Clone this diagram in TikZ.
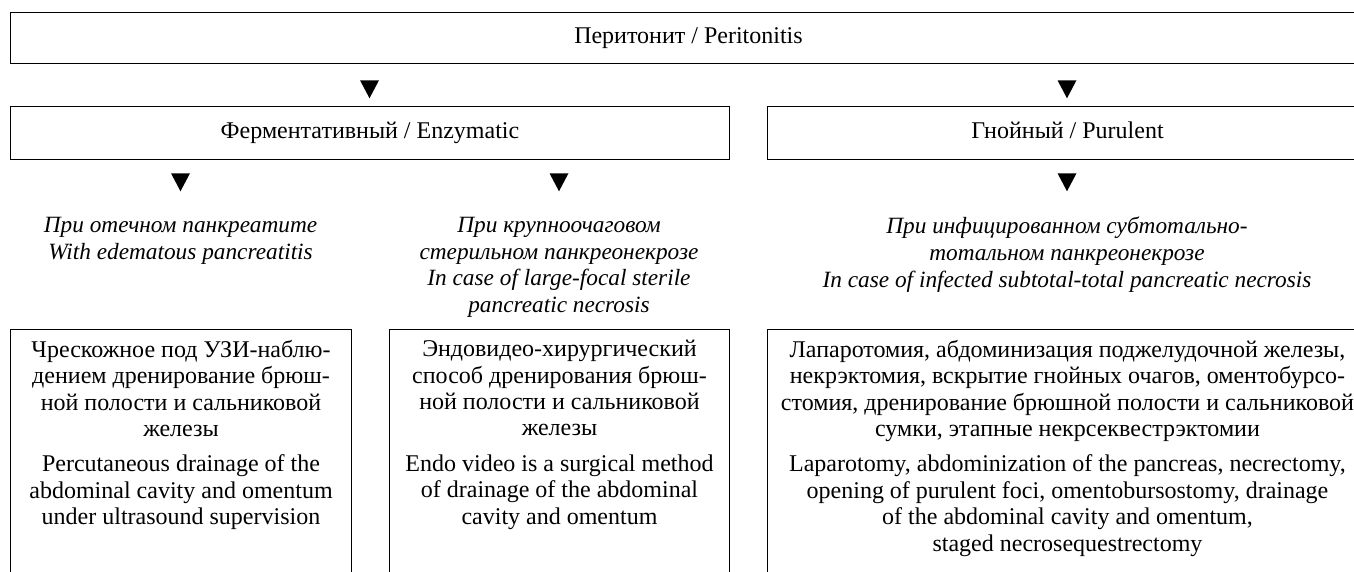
\documentclass[tikz,border=0pt]{standalone}
\usepackage{fontspec}
\setmainfont{Liberation Serif}
\usetikzlibrary{shapes.geometric}

\begin{document}
\begin{tikzpicture}[x = 1pt, y = -1pt, font = \fontsize{24}{26.4}\selectfont,
        box/.style = {draw, line width = 1pt, inner sep = 0pt, anchor = north west},
        head/.style = {box, text height = 16pt, text depth = 5pt},
        tip/.style = {isosceles triangle, isosceles triangle stretches, shape border rotate = -90,
            fill, inner sep = 0pt, minimum height = 18pt, minimum width = 19pt},
        case/.style = {align = center, anchor = north, inner sep = 0pt,
            font = \fontsize{23.3}{26.6}\selectfont\itshape},
        body/.style = {align = center, anchor = north, inner sep = 0pt}]
        \useasboundingbox (0,0) rectangle (1354,572);
        \clip (0,0) rectangle (1354,572);

        % first two levels
        \node[head, minimum width = 1356pt, minimum height = 51pt] (peritonitis) at (10,12) {Перитонит / Peritonitis};
        \node[tip] (tipL) at (369.5,86) {};
        \node[tip] (tipR) at (1067,86) {};

        \node[head, minimum width = 719pt, minimum height = 53pt] (enzymatic) at (10,106) {Ферментативный / Enzymatic};
        \node[head, minimum width = 600pt, minimum height = 53pt] (purulent) at (767,106) {Гнойный / Purulent};

        \node[tip] (tipA) at (180.5,179) {};
        \node[tip] (tipB) at (559,179) {};
        \node[tip] (tipC) at (1067,179) {};

        % cases
        \node[case] (edematous) at (180.5,217) {При отечном панкреатите\\With edematous pancreatitis};
        \node[case] (sterile) at (559,217) {При крупноочаговом\\стерильном панкреонекрозе\\In case of large-focal sterile\\pancreatic necrosis};
        \node[case] (infected) at (1067,217) {При инфицированном субтотально-\\тотальном панкреонекрозе\\In case of infected subtotal-total pancreatic necrosis};

        % treatment
        \node[box, minimum width = 341pt, minimum height = 300pt] (drainage) at (10,329) {};
        \node[box, minimum width = 340pt, minimum height = 300pt] (endovideo) at (389,329) {};
        \node[box, minimum width = 600pt, minimum height = 300pt] (laparotomy) at (767,329) {};

        \node[body] (drainageText) at ([yshift = -11pt]drainage.north)
            {Чрескожное под УЗИ-наблю-\\дением дренирование брюш-\\ной полости и сальниковой\\железы\\[9pt]
             Percutaneous drainage of the\\abdominal cavity and omentum\\under ultrasound supervision};
        \node[body] (endovideoText) at ([yshift = -11pt]endovideo.north)
            {Эндовидео-хирургический\\способ дренирования брюш-\\ной полости и сальниковой\\железы\\[9pt]
             Endo video is a surgical method\\of drainage of the abdominal\\cavity and omentum};
        \node[body] (laparotomyText) at ([yshift = -11pt]laparotomy.north)
            {Лапаротомия, абдоминизация поджелудочной железы,\\некрэктомия, вскрытие гнойных очагов, оментобурсо-\\стомия, дренирование брюшной полости и сальниковой\\сумки, этапные некрсеквестрэктомии\\[9pt]
             Laparotomy, abdominization of the pancreas, necrectomy,\\opening of purulent foci, omentobursostomy, drainage\\of the abdominal cavity and omentum,\\staged necrosequestrectomy};
    \end{tikzpicture}
\end{document}
